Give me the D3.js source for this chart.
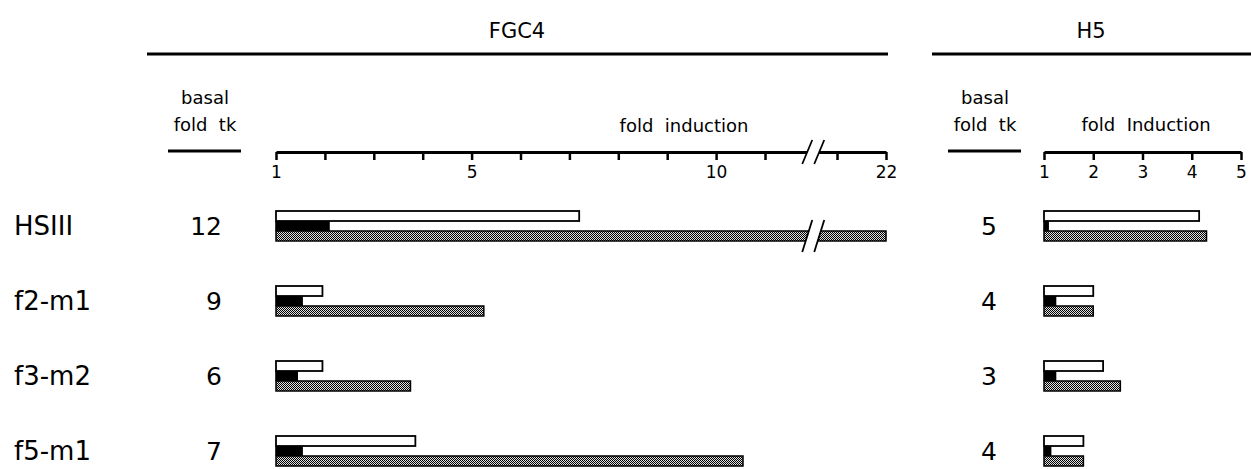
<!DOCTYPE html>
<html>
<head>
<meta charset="utf-8">
<script src="https://cdn.jsdelivr.net/npm/d3@7"></script>
<style>
  body { margin: 0; background: #fff; }
  text { font-family: "DejaVu Sans", sans-serif; fill: #000; }
</style>
</head>
<body>
<div id="chart"></div>
<script>
// rows and values
const rows = ["HSIII", "f2-m1", "f3-m2", "f5-m1"];

const fgc4_basal = [12, 9, 6, 7];
const h5_basal = [5, 4, 3, 4];

// fold induction, FGC4 panel
const fgc4_white = [7.2, 1.95, 1.95, 3.85];
const fgc4_black = [2.1, 1.55, 1.45, 1.55];
const fgc4_hatched = [22, 5.25, 3.75, 10.55];

// fold induction, H5 panel
const h5_white = [4.15, 2.0, 2.2, 1.8];
const h5_black = [1.1, 1.25, 1.25, 1.15];
const h5_hatched = [4.3, 2.0, 2.55, 1.8];

const fgc4_ticks = [1, 2, 3, 4, 5, 6, 7, 8, 9, 10, 11, 21, 22];
const fgc4_tick_labels = [1, 5, 10, 22];
const h5_ticks = [1, 2, 3, 4, 5];
const axis_break = 17.7;   // where the // sits on the FGC4 scale

draw_chart("chart");

function draw_chart(target) {
    const W = 1251, H = 469;

    const svg = d3.select("#" + target).append("svg")
        .attr("width", W)
        .attr("height", H);

    svg.append("rect").attr("width", W).attr("height", H).attr("fill", "#fff");

    // stippled fill for the grey bars
    const pat = svg.append("defs").append("pattern")
        .attr("id", "stipple")
        .attr("patternUnits", "userSpaceOnUse")
        .attr("width", 2).attr("height", 2);
    pat.append("rect").attr("width", 2).attr("height", 2).attr("fill", "#e2e2e2");
    pat.append("rect").attr("width", 1).attr("height", 1).attr("fill", "#000");
    pat.append("rect").attr("x", 1).attr("y", 1).attr("width", 1).attr("height", 1).attr("fill", "#000");

    // broken scale: 11 .. 21 is squeezed together
    const xF = d3.scaleLinear().domain([1, 11, 21, 22]).range([276, 765, 837, 886]);
    const xH = d3.scaleLinear().domain([1, 5]).range([1044, 1241]);
    const y = d3.scalePoint().domain(rows).range([226, 451]);

    const axisY = 152;

    // panel titles + rules
    svg.append("text").attr("x", 517).attr("y", 38).attr("text-anchor", "middle")
        .style("font-size", "21px").text("FGC4");
    svg.append("line").attr("x1", 147).attr("x2", 888).attr("y1", 54).attr("y2", 54)
        .attr("stroke", "#000").attr("stroke-width", 3);

    svg.append("text").attr("x", 1091).attr("y", 38).attr("text-anchor", "middle")
        .style("font-size", "21px").text("H5");
    svg.append("line").attr("x1", 932).attr("x2", 1251).attr("y1", 54).attr("y2", 54)
        .attr("stroke", "#000").attr("stroke-width", 3);

    // basal fold tk headers
    [[205, 168, 241], [985, 948, 1021]].forEach(function(p) {
        svg.append("text").attr("x", p[0]).attr("y", 104).attr("text-anchor", "middle")
            .style("font-size", "18px").text("basal");
        svg.append("text").attr("x", p[0]).attr("y", 131).attr("text-anchor", "middle")
            .style("font-size", "18px").attr("xml:space", "preserve").text("fold  tk");
        svg.append("line").attr("x1", p[1]).attr("x2", p[2]).attr("y1", axisY - 1).attr("y2", axisY - 1)
            .attr("stroke", "#000").attr("stroke-width", 3);
    });

    svg.append("text").attr("x", 684).attr("y", 132).attr("text-anchor", "middle")
        .style("font-size", "18px").attr("xml:space", "preserve").text("fold  induction");
    svg.append("text").attr("x", 1146).attr("y", 131).attr("text-anchor", "middle")
        .style("font-size", "18px").attr("xml:space", "preserve").text("fold  Induction");

    // FGC4 axis
    const gF = svg.append("g").attr("transform", `translate(0, ${axisY})`)
        .call(d3.axisBottom(xF)
            .tickValues(fgc4_ticks)
            .tickFormat(d => fgc4_tick_labels.includes(d) ? d : "")
            .tickSize(8).tickSizeOuter(0).tickPadding(6));
    style_axis(gF);
    draw_break(svg, xF(axis_break), axisY, 3, 12);

    // H5 axis
    const gH = svg.append("g").attr("transform", `translate(0, ${axisY})`)
        .call(d3.axisBottom(xH)
            .tickValues(h5_ticks)
            .tickFormat(d3.format("d"))
            .tickSize(8).tickSizeOuter(0).tickPadding(6));
    style_axis(gH);

    // row labels and basal numbers
    rows.forEach(function(r, i) {
        svg.append("text").attr("x", 14).attr("y", y(r) + 9)
            .style("font-size", "26px").text(r);
        svg.append("text").attr("x", 222).attr("y", y(r) + 9).attr("text-anchor", "end")
            .style("font-size", "25px").text(fgc4_basal[i]);
        svg.append("text").attr("x", 997).attr("y", y(r) + 9).attr("text-anchor", "end")
            .style("font-size", "25px").text(h5_basal[i]);
    });

    // bars
    draw_bars(svg, xF, y, fgc4_white, fgc4_black, fgc4_hatched);
    draw_bars(svg, xH, y, h5_white, h5_black, h5_hatched);

    // break through the long HSIII bar
    draw_break(svg, xF(axis_break), y(rows[0]) + 10, 6, 16);
}

function draw_bars(svg, x, y, white, black, hatched) {
    const bh = 10;
    const g = svg.append("g");

    g.selectAll(".white").data(rows).enter().append("rect")
        .attr("x", x(1))
        .attr("y", d => y(d) - 15)
        .attr("width", (d, i) => x(white[i]) - x(1))
        .attr("height", bh)
        .attr("fill", "#fff").attr("stroke", "#000").attr("stroke-width", 1.8);

    g.selectAll(".hatch").data(rows).enter().append("rect")
        .attr("x", x(1))
        .attr("y", d => y(d) + 5)
        .attr("width", (d, i) => x(hatched[i]) - x(1))
        .attr("height", bh)
        .attr("fill", "url(#stipple)").attr("stroke", "#000").attr("stroke-width", 1.5);

    g.selectAll(".black").data(rows).enter().append("rect")
        .attr("x", x(1) - 0.8)
        .attr("y", d => y(d) - 5)
        .attr("width", (d, i) => x(black[i]) - x(1) + 0.8)
        .attr("height", bh)
        .attr("fill", "#000");
}

function style_axis(g) {
    g.select(".domain").attr("stroke", "#000").attr("stroke-width", 3);
    g.selectAll(".tick line").attr("stroke", "#000").attr("stroke-width", 2.5);
    g.selectAll(".tick text").style("font-size", "17px").attr("fill", "#000");
}

// "//" mark: white gap between two slanted strokes
function draw_break(svg, cx, cy, band, h) {
    const dx = 5, gap = 6;
    const k = dx / h;
    svg.append("polygon")
        .attr("points", [
            [cx - gap + k * band, cy - band], [cx + gap + k * band, cy - band],
            [cx + gap - k * band, cy + band], [cx - gap - k * band, cy + band]
        ].map(p => p.join(",")).join(" "))
        .attr("fill", "#fff");
    [-gap, gap].forEach(function(o) {
        svg.append("line")
            .attr("x1", cx + o + dx).attr("y1", cy - h)
            .attr("x2", cx + o - dx).attr("y2", cy + h)
            .attr("stroke", "#000").attr("stroke-width", 1.8);
    });
}
</script>
</body>
</html>
